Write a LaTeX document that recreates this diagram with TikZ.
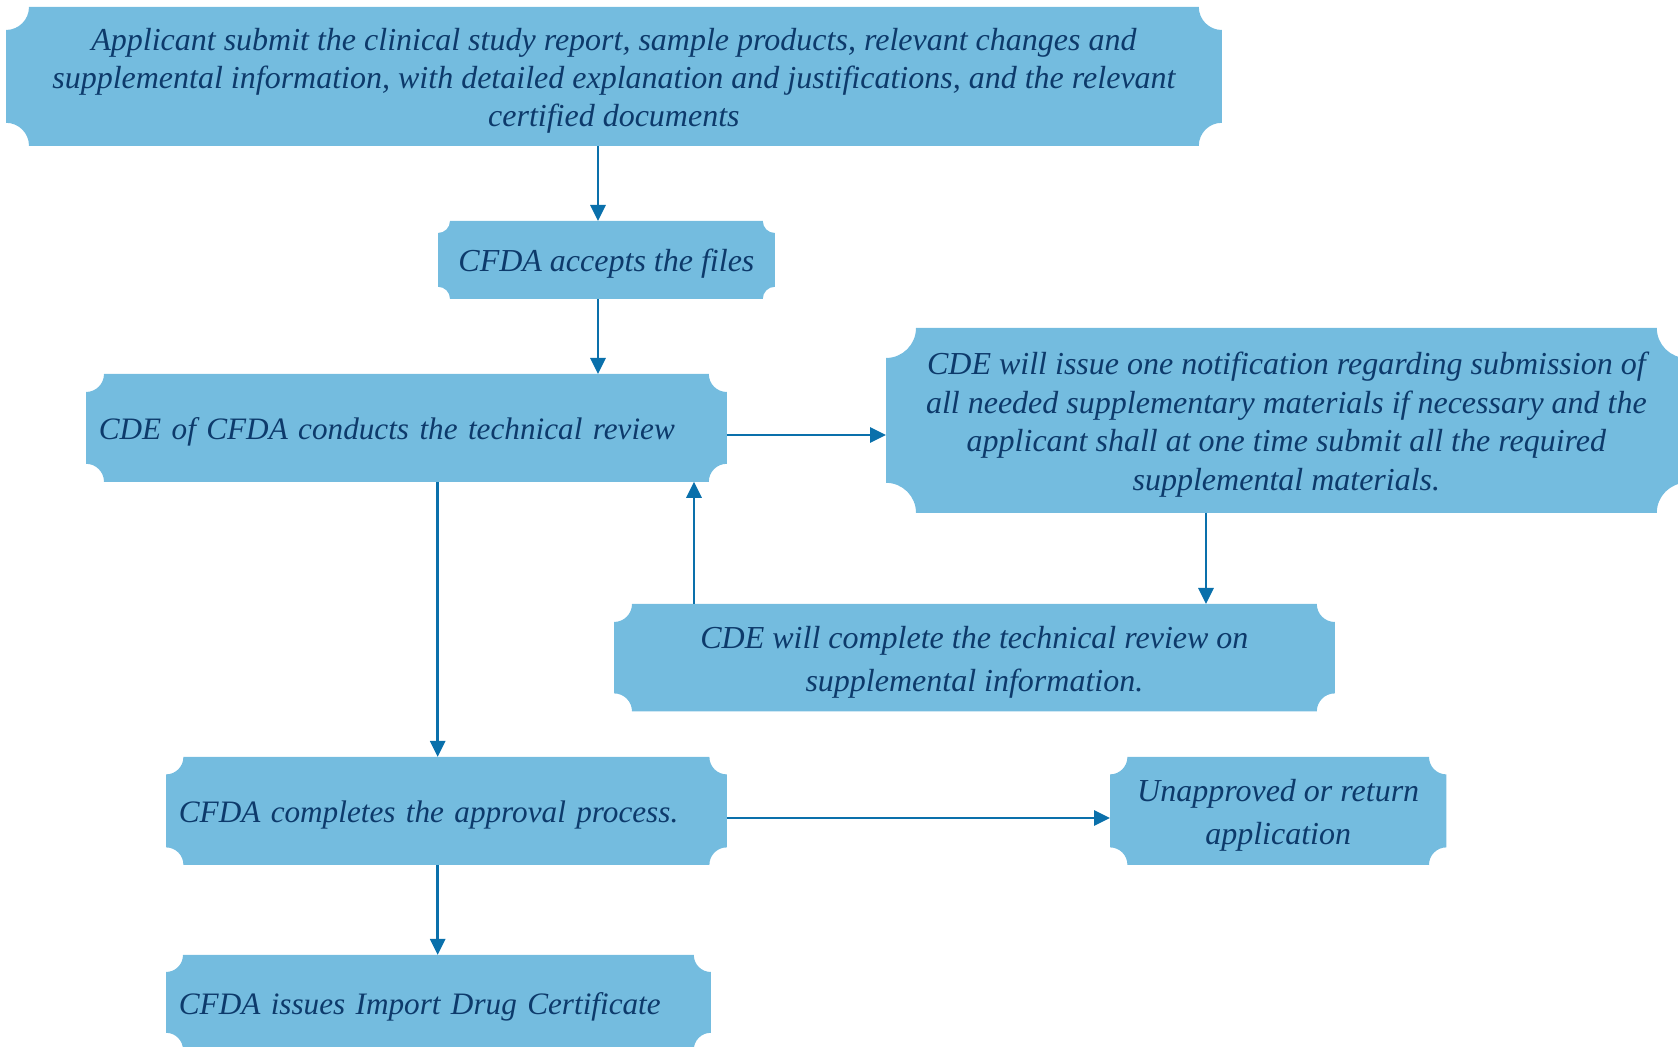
\documentclass[tikz,border=0pt]{standalone}
\usepackage{fontspec}
\setmainfont{Liberation Serif}
\usetikzlibrary{arrows.meta,backgrounds}
\definecolor{boxfill}{HTML}{74BCDF}
\definecolor{boxtext}{HTML}{0D3A6B}
\definecolor{arrowcol}{HTML}{0A70AB}
\newcommand\mytopstrut{\rule{0pt}{15.6pt}}
\tikzset{
  box/.style={inner sep=0pt, anchor=north west, text=boxtext},
  onebox/.style={box, execute at begin node={\rule{0pt}{15.4pt}}},
  leftbox/.style={onebox, inner xsep=6.25pt, align=left,
    font=\fontsize{15.6}{19}\selectfont\itshape},
  ctrbox/.style={box, align=center,
    font=\fontsize{16}{19}\selectfont\itshape},
  arr/.style={draw=arrowcol, line width=1.4pt, -{Triangle[length=8pt,width=7.5pt]}}
}
\newcommand\scoopfill[2]{%
  \fill[boxfill] ([yshift=#2]#1.south west) -- ([yshift=-#2]#1.north west)
    arc[start angle=270,end angle=360,radius=#2]
    -- ([xshift=-#2]#1.north east)
    arc[start angle=180,end angle=270,radius=#2]
    -- ([yshift=#2]#1.south east)
    arc[start angle=90,end angle=180,radius=#2]
    -- ([xshift=#2]#1.south west)
    arc[start angle=0,end angle=90,radius=#2] -- cycle;}
\begin{document}
\begin{tikzpicture}[x=0.5pt,y=-0.5pt]
\clip (0,0) rectangle (1678,1047);
% boxes
\node[ctrbox, minimum width=607.5pt, minimum height=69pt] (b1) at (6,7)
  {\mytopstrut Applicant submit the clinical study report, sample products, relevant changes and\\
   supplemental information, with detailed explanation and justifications, and the relevant\\
   certified documents};
\node[ctrbox, onebox, minimum width=168pt, minimum height=38.5pt] (b2) at (438,221)
  {CFDA accepts the files};
\node[leftbox, text width=307.5pt, minimum height=53.5pt] (b3) at (86,374)
  {CDE of CFDA conducts the technical review};
\node[ctrbox, minimum width=400pt, minimum height=92pt,
  font=\fontsize{16}{19.3}\selectfont\itshape] (b4) at (886,328)
  {\mytopstrut CDE will issue one notification regarding submission of\\
   all needed supplementary materials if necessary and the\\
   applicant shall at one time submit all the required\\
   supplemental materials.};
\node[ctrbox, minimum width=360pt, minimum height=53.3pt,
  font=\fontsize{16}{21.4}\selectfont\itshape] (b5) at (614,604)
  {\mytopstrut CDE will complete the technical review on\\ supplemental information.};
\node[leftbox, text width=267.5pt, minimum height=53.5pt] (b6) at (166,757)
  {CFDA completes the approval process.};
\node[ctrbox, minimum width=167.8pt, minimum height=53.5pt,
  font=\fontsize{16}{21.4}\selectfont\itshape] (b7) at (1110,757)
  {\mytopstrut Unapproved or return\\ application};
\node[leftbox, text width=259.5pt, minimum height=47pt] (b8) at (166,955)
  {CFDA issues Import Drug Certificate};
\begin{scope}[on background layer]
  \scoopfill{b1}{11.5pt}
  \scoopfill{b2}{6pt}
  \scoopfill{b3}{9pt}
  \scoopfill{b4}{15pt}
  \scoopfill{b5}{9pt}
  \scoopfill{b6}{8.7pt}
  \scoopfill{b7}{8.7pt}
  \scoopfill{b8}{8.5pt}
\end{scope}
% connector guides
\coordinate (c1) at (598,0);
\coordinate (c3) at (0,435);
\coordinate (c4) at (1206,0);
\coordinate (c5) at (694,0);
\coordinate (c6) at (437.7,0);
\coordinate (c7) at (0,818);
% connectors
\draw[arr] (b1.south -| c1) -- (b2.north -| c1);
\draw[arr] (b2.south -| c1) -- (b3.north -| c1);
\draw[arr] (b3.east |- c3) -- (b4.west |- c3);
\draw[arr] (b4.south -| c4) -- (b5.north -| c4);
\draw[arr] (b5.north -| c5) -- (b3.south -| c5);
\draw[arr] (b3.south -| c6) -- (b6.north -| c6);
\draw[arr] (b6.east |- c7) -- (b7.west |- c7);
\draw[arr] (b6.south -| c6) -- (b8.north -| c6);
\end{tikzpicture}
\end{document}
